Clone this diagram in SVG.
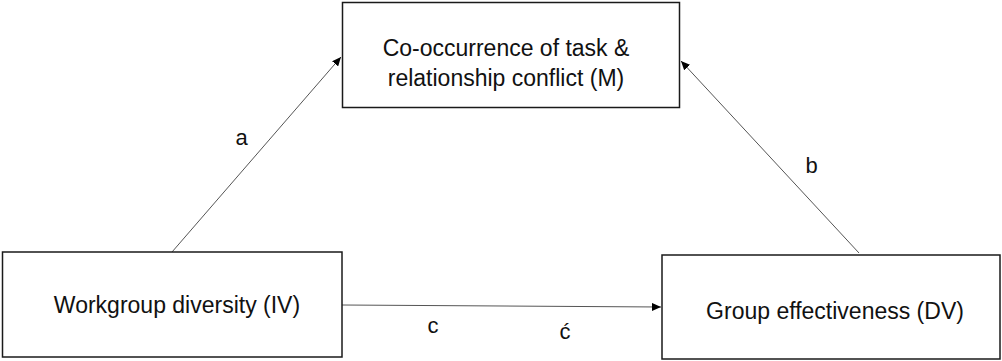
<svg xmlns="http://www.w3.org/2000/svg" width="1002" height="361" viewBox="0 0 1002 361">
  <style>
    .box { fill: #ffffff; stroke: #1a1a1a; stroke-width: 1.5; }
    .label { font-family: "Liberation Sans", Arial, sans-serif; font-size: 23px; fill: #111111; text-anchor: middle; }
    .path-label { font-family: "Liberation Sans", Arial, sans-serif; font-size: 22px; fill: #111111; text-anchor: middle; }
    .link { stroke: #555555; stroke-width: 1; fill: none; marker-end: url(#arrow); }
  </style>
  <defs>
    <marker id="arrow" markerUnits="userSpaceOnUse" markerWidth="10" markerHeight="8" refX="9" refY="4" orient="auto">
      <path d="M0,0 L9,4 L0,8 Z" fill="#000000"/>
    </marker>
  </defs>
  <rect width="1002" height="361" fill="#ffffff"/>

  <!-- paths between variables -->
  <g id="connectors">
    <line class="link" x1="172" y1="252" x2="341" y2="57"/>
    <line class="link" x1="859" y1="253" x2="681" y2="61"/>
    <line class="link" x1="342" y1="305" x2="661" y2="307"/>
    <text class="path-label" x="241.5" y="145">a</text>
    <text class="path-label" x="811.5" y="173">b</text>
    <text class="path-label" x="433" y="333">c</text>
    <text class="path-label" x="565" y="339">ć</text>
  </g>

  <!-- mediator -->
  <g id="mediator">
    <rect class="box" x="342.5" y="2.5" width="337" height="105"/>
    <text class="label" x="506" y="56">Co-occurrence of task &amp;</text>
    <text class="label" x="506" y="86">relationship conflict (M)</text>
  </g>

  <!-- independent variable -->
  <g id="independent">
    <rect class="box" x="2.5" y="252" width="339.5" height="105"/>
    <text class="label" x="177" y="313">Workgroup diversity (IV)</text>
  </g>

  <!-- dependent variable -->
  <g id="dependent">
    <rect class="box" x="662" y="255" width="338" height="104"/>
    <text class="label" x="835" y="319">Group effectiveness (DV)</text>
  </g>
</svg>
